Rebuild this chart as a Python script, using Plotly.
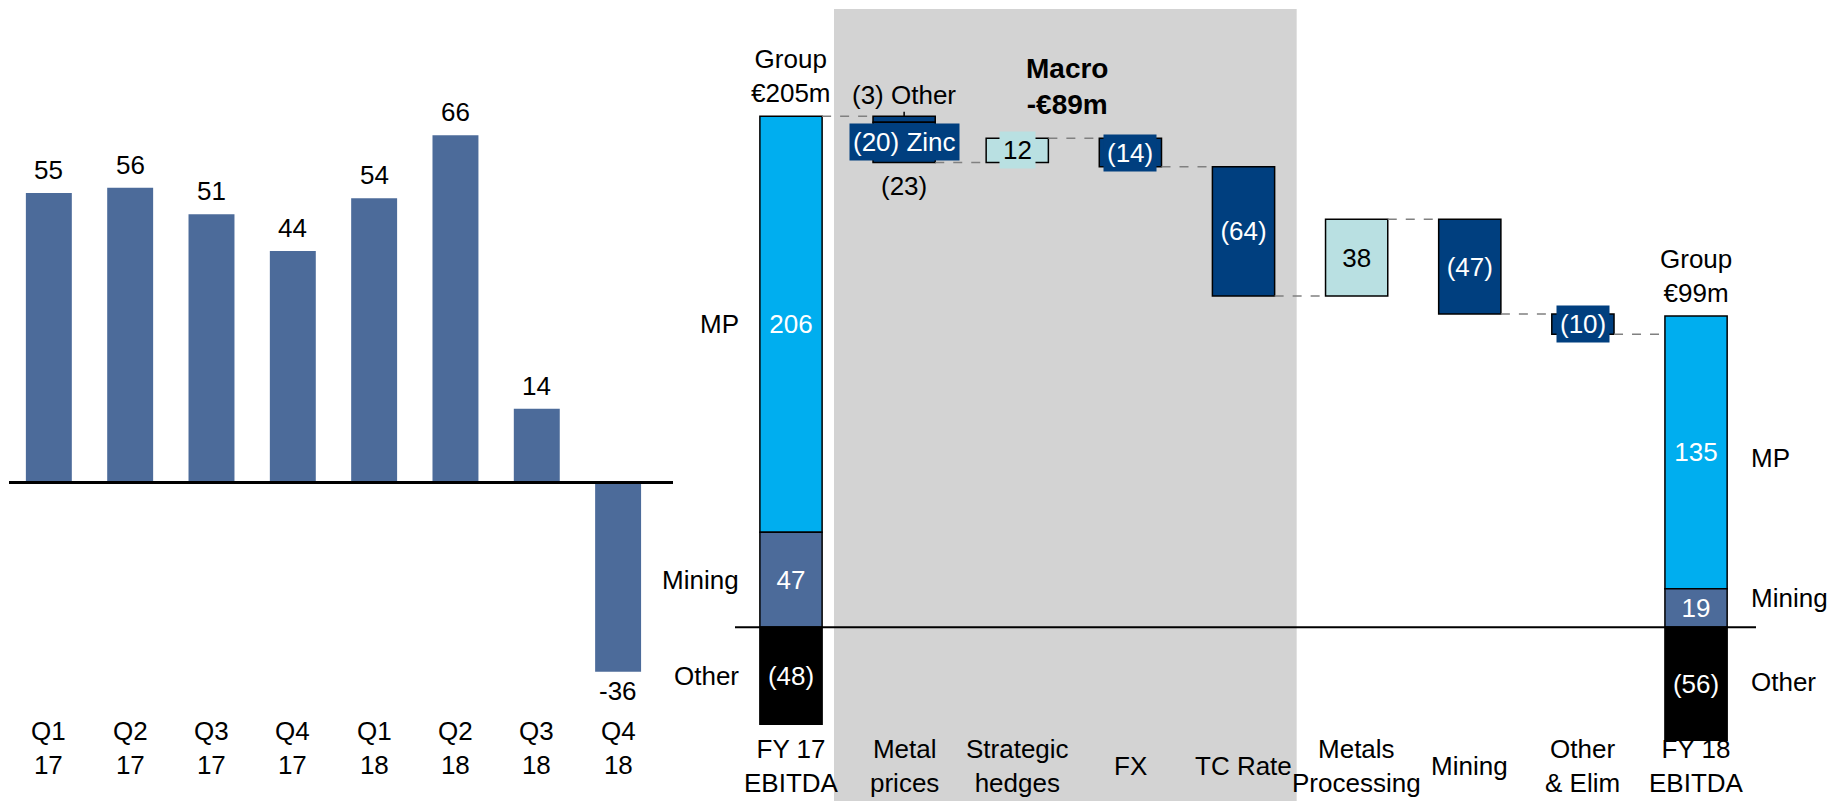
import plotly.graph_objects as go

# ---------------- data ----------------
# Left chart: quarterly group EBITDA
quarters = ["Q1<br>17", "Q2<br>17", "Q3<br>17", "Q4<br>17",
            "Q1<br>18", "Q2<br>18", "Q3<br>18", "Q4<br>18"]
quarterly_ebitda = [55, 56, 51, 44, 54, 66, 14, -36]

# Right chart: EBITDA bridge FY17 -> FY18
bridge_cats = ["FY 17<br>EBITDA", "Metal<br>prices", "Strategic<br>hedges", "FX",
               "TC Rate", "Metals<br>Processing", "Mining", "Other<br>& Elim",
               "FY 18<br>EBITDA"]
segments = ["MP", "Mining", "Other"]
fy17_segment_values = [206, 47, -48]
fy18_segment_values = [135, 19, -56]
group_totals = [205, 99]
metal_price_parts = ["Other", "Zinc"]
metal_price_values = [-3, -20]
step_cats = ["Strategic<br>hedges", "FX", "TC Rate", "Metals<br>Processing", "Mining", "Other<br>& Elim"]
step_values = [12, -14, -64, 38, -47, -10]
macro_total = -89

# ---------------- styles ----------------
FONT = "Liberation Sans, Arial, sans-serif"
FS = 26
C_BAR = "#4C6B9A"
C_MP = "#00AEEF"
C_MINING = "#4C6B9A"
C_OTHER = "#000000"
C_DOWN = "#003F7F"
C_UP = "#B9E0E2"
W = 0.55


def fmt(v):
    return f"({abs(v)})" if v < 0 else f"{v}"


fig = go.Figure()

# ---------------- left chart ----------------
xq = list(range(len(quarters)))
fig.add_trace(go.Bar(
    x=xq, y=quarterly_ebitda, width=0.565,
    marker=dict(color=C_BAR, line=dict(width=0)),
    xaxis="x", yaxis="y", showlegend=False, hoverinfo="skip"))

# ---------------- right chart ----------------
ends = [0, len(bridge_cats) - 1]
seg_colors = [C_MP, C_MINING, C_OTHER]
for si, seg in enumerate(segments):
    vals = [fy17_segment_values[si], fy18_segment_values[si]]
    if seg == "MP":
        bases = [fy17_segment_values[1], fy18_segment_values[1]]
    else:
        bases = [0, 0]
    fig.add_trace(go.Bar(
        x=ends, y=vals, base=bases, width=W,
        marker=dict(color=seg_colors[si], line=dict(color="black", width=1.5)),
        text=[fmt(v) for v in vals], textposition="inside", insidetextanchor="middle",
        constraintext="none",
        textfont=dict(size=FS, color="white", family=FONT),
        xaxis="x2", yaxis="y2", showlegend=False, hoverinfo="skip"))

start_level = fy17_segment_values[0] + fy17_segment_values[1]

# Metal prices: stacked decrease (Other, Zinc)
mp_bases = []
lvl = start_level
for v in metal_price_values:
    mp_bases.append(lvl)
    lvl += v
fig.add_trace(go.Bar(
    x=[1] * len(metal_price_values), y=metal_price_values, base=mp_bases, width=W,
    marker=dict(color=C_DOWN, line=dict(color="black", width=1.5)),
    xaxis="x2", yaxis="y2", showlegend=False, hoverinfo="skip"))
levels = [start_level, lvl]

# other steps
step_x = list(range(2, 2 + len(step_values)))
step_bases = []
for v in step_values:
    step_bases.append(lvl)
    lvl += v
    levels.append(lvl)
inside_text_steps = {"TC Rate", "Metals<br>Processing", "Mining"}
fig.add_trace(go.Bar(
    x=step_x, y=step_values, base=step_bases, width=W,
    marker=dict(color=[C_UP if v > 0 else C_DOWN for v in step_values],
                line=dict(color="black", width=1.5)),
    text=[fmt(v) if c in inside_text_steps else "" for c, v in zip(step_cats, step_values)],
    textposition="inside", insidetextanchor="middle", constraintext="none",
    textfont=dict(size=FS, color=["black" if v > 0 else "white" for v in step_values], family=FONT),
    xaxis="x2", yaxis="y2", showlegend=False, hoverinfo="skip"))

# dashed connectors
cx, cy = [], []
for i, L in enumerate(levels):
    cx += [i + W / 2, i + 1 - W / 2, None]
    cy += [L, L, None]
fig.add_trace(go.Scatter(
    x=cx, y=cy, mode="lines", line=dict(color="#808080", width=1.5, dash="dash"),
    xaxis="x2", yaxis="y2", showlegend=False, hoverinfo="skip"))

# ---------------- annotations ----------------
ann = []
txt = dict(size=FS, color="black", family=FONT)
# left value labels
for i, v in enumerate(quarterly_ebitda):
    ann.append(dict(x=i, xref="x", y=v, yref="y", text=str(v), showarrow=False,
                    yanchor="bottom" if v >= 0 else "top", yshift=6 if v >= 0 else -2,
                    font=txt))
# category labels
for i, q in enumerate(quarters):
    ann.append(dict(x=i, xref="x", y=1 - 748 / 801, yref="paper", text=q, showarrow=False,
                    font=txt, yanchor="middle"))
for i, c in enumerate(bridge_cats):
    ann.append(dict(x=i, xref="x2", y=1 - 766 / 801, yref="paper", text=c, showarrow=False,
                    font=txt, yanchor="middle"))

# group totals
fy17_top = fy17_segment_values[0] + fy17_segment_values[1]
fy18_top = fy18_segment_values[0] + fy18_segment_values[1]
ann.append(dict(x=0, xref="x2", y=fy17_top, yref="y2", text=f"Group<br>€{group_totals[0]}m",
                showarrow=False, yanchor="bottom", yshift=6, font=txt))
ann.append(dict(x=8, xref="x2", y=fy18_top, yref="y2", text=f"Group<br>€{group_totals[1]}m",
                showarrow=False, yanchor="bottom", yshift=6, font=txt))


def seg_centers(vals):
    mp, mi, ot = vals
    return [mi + mp / 2, mi / 2, ot / 2]


for s, yc in zip(segments, seg_centers(fy17_segment_values)):
    ann.append(dict(x=-0.44, xref="x2", y=yc, yref="y2", text=s, showarrow=False,
                    xanchor="right", font=txt))
fy18_shift = {"MP": -6, "Mining": 10, "Other": 2}
for s, yc in zip(segments, seg_centers(fy18_segment_values)):
    ann.append(dict(x=8.47, xref="x2", y=yc, yref="y2", text=s, showarrow=False,
                    xanchor="left", yshift=fy18_shift[s], font=txt))

# macro header
ann.append(dict(x=1067 / 1845, xref="paper", y=1 - 51 / 801, yref="paper",
                text=f"<b>Macro<br>-€{abs(macro_total)}m</b>", showarrow=False,
                font=dict(size=28, color="black", family=FONT)))

# metal prices labels
ann.append(dict(x=1, xref="x2", y=start_level, yref="y2",
                text=f"{fmt(metal_price_values[0])} {metal_price_parts[0]}",
                showarrow=True, arrowhead=0, arrowwidth=1.5, arrowcolor="black",
                ax=0, ay=-21, font=txt))
ann.append(dict(x=1, xref="x2", y=mp_bases[1] + metal_price_values[1] / 2, yref="y2",
                text=f"{fmt(metal_price_values[1])} {metal_price_parts[1]}",
                showarrow=False, bgcolor=C_DOWN, borderpad=3,
                font=dict(size=FS, color="white", family=FONT)))
ann.append(dict(x=1, xref="x2", y=levels[1], yref="y2",
                text=fmt(sum(metal_price_values)), showarrow=False, yanchor="top", yshift=-6,
                font=txt))

# small-step labels with boxes
for c, x, b, v in zip(step_cats, step_x, step_bases, step_values):
    if c in inside_text_steps:
        continue
    ann.append(dict(x=x, xref="x2", y=b + v / 2, yref="y2", text=fmt(v), showarrow=False,
                    bgcolor=C_UP if v > 0 else C_DOWN, borderpad=3,
                    font=dict(size=FS, color="black" if v > 0 else "white", family=FONT)))

# ---------------- shapes ----------------
shapes = [
    dict(type="rect", xref="x2", yref="paper", x0=0.38, x1=4.47, y0=0, y1=1 - 9 / 801,
         fillcolor="#D3D3D3", line=dict(width=0), layer="below"),
    dict(type="line", xref="x domain", yref="y", x0=0, x1=1, y0=0, y1=0,
         line=dict(color="black", width=3)),
    dict(type="line", xref="x2 domain", yref="y2", x0=0, x1=1, y0=0, y1=0,
         line=dict(color="black", width=2)),
]

# axis ranges (px per unit set to match reference)
kL, zL = 5.26, 482.4
kR, zR = 2.02, 627.2
axis_common = dict(visible=False, showgrid=False, zeroline=False, fixedrange=True)

fig.update_layout(
    width=1845, height=801, autosize=False,
    margin=dict(l=0, r=0, t=0, b=0),
    paper_bgcolor="white", plot_bgcolor="rgba(0,0,0,0)",
    font=dict(family=FONT, size=FS, color="black"),
    barmode="overlay",
    xaxis=dict(domain=[9 / 1845, 673 / 1845], range=[-0.49, 7.675], anchor="y", **axis_common),
    yaxis=dict(domain=[0, 1], range=[zL / kL - 801 / kL, zL / kL], anchor="x", **axis_common),
    xaxis2=dict(domain=[735 / 1845, 1756 / 1845], range=[-0.495, 8.53], anchor="y2", **axis_common),
    yaxis2=dict(domain=[0, 1], range=[zR / kR - 801 / kR, zR / kR], anchor="x2", **axis_common),
    annotations=ann, shapes=shapes, showlegend=False,
)

fig.write_html("out.html")
